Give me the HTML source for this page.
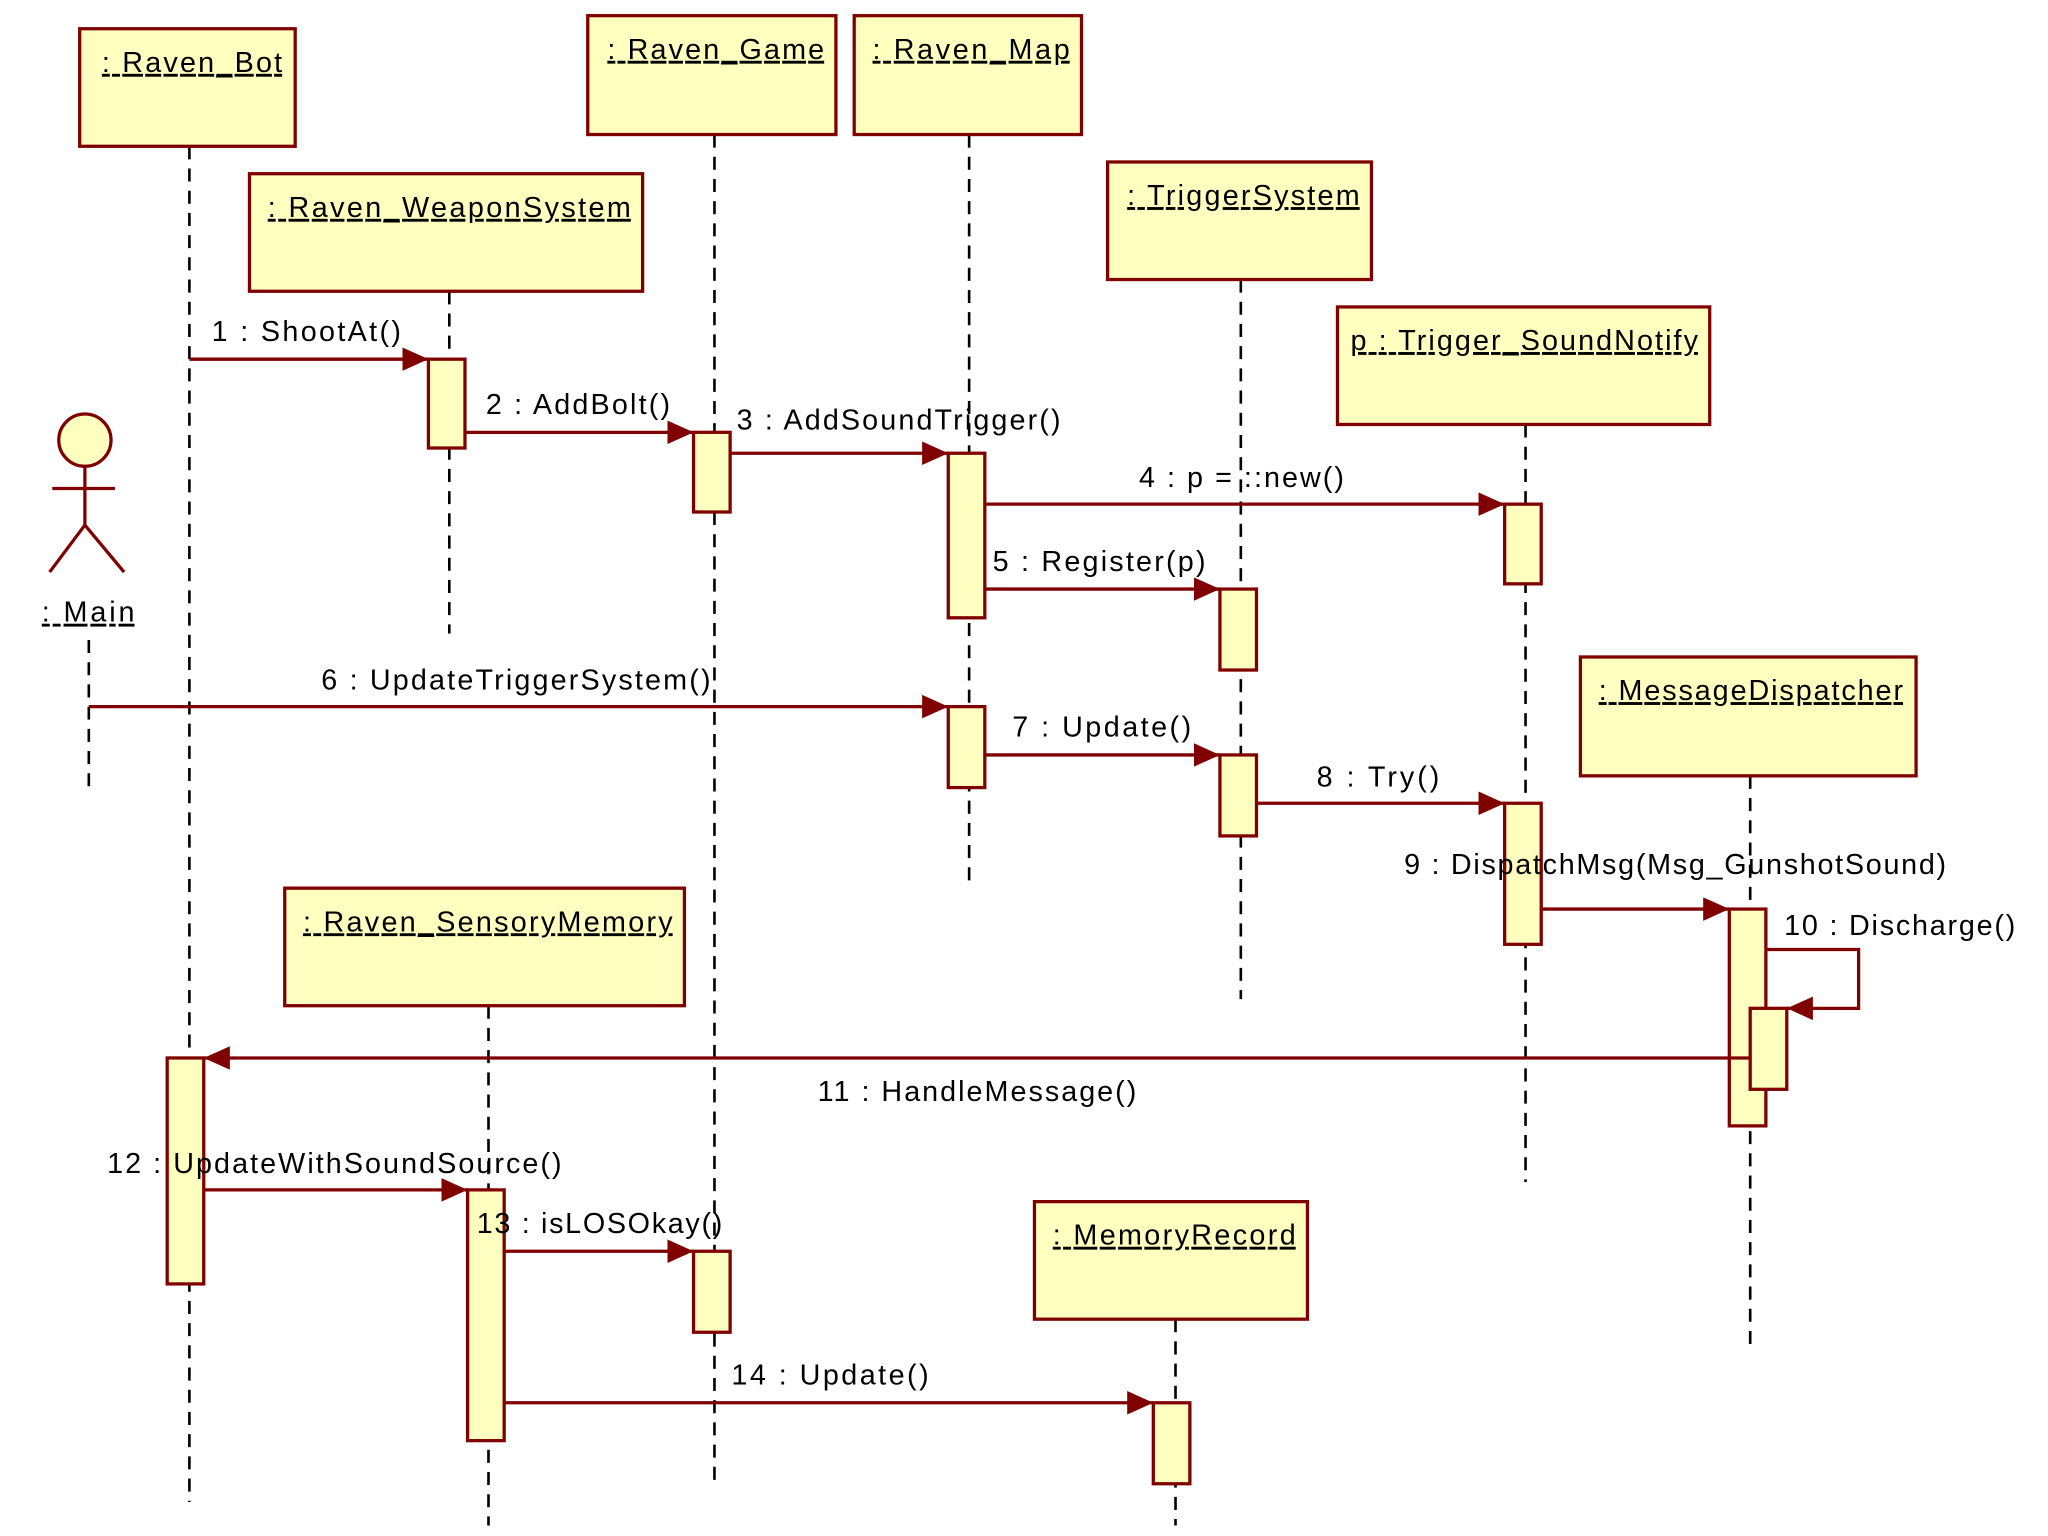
<!DOCTYPE html>
<html><head><meta charset="utf-8"><style>html,body{margin:0;padding:0;background:#fff}svg{display:block}</style></head>
<body>
<svg width="2048" height="1536" viewBox="0 0 1568 1176" xmlns="http://www.w3.org/2000/svg" font-family="Liberation Sans, sans-serif" font-size="22">
<defs>
<marker id="a" viewBox="0 0 20 18" refX="20" refY="9" markerWidth="20" markerHeight="18" markerUnits="userSpaceOnUse" orient="auto"><path d="M0,0 L20,9 L0,18 z" fill="#800000"/></marker>
</defs>
<rect width="1568" height="1176" fill="#fff"/>
<g stroke="#000" stroke-width="2" stroke-dasharray="10,7" fill="none">
<line x1="145" y1="112" x2="145" y2="1150"/>
<line x1="344" y1="223" x2="344" y2="485"/>
<line x1="547" y1="103" x2="547" y2="1140"/>
<line x1="742" y1="103" x2="742" y2="680"/>
<line x1="950" y1="214" x2="950" y2="765"/>
<line x1="1168" y1="325" x2="1168" y2="905"/>
<line x1="1340" y1="594" x2="1340" y2="1030"/>
<line x1="374" y1="770" x2="374" y2="1168"/>
<line x1="900" y1="1010" x2="900" y2="1168"/>
<line x1="68" y1="490" x2="68" y2="605"/>
</g>
<g fill="#ffffc0" stroke="#800000" stroke-width="2.5">
<rect x="61" y="22" width="165" height="90"/>
<rect x="191" y="133" width="301" height="90"/>
<rect x="450" y="12" width="190" height="91"/>
<rect x="654" y="12" width="174" height="91"/>
<rect x="848" y="124" width="202" height="90"/>
<rect x="1024" y="235" width="285" height="90"/>
<rect x="1210" y="503" width="257" height="91"/>
<rect x="218" y="680" width="306" height="90"/>
<rect x="792" y="920" width="209" height="90"/>
<circle cx="65" cy="337" r="20"/>
</g>
<g stroke="#800000" stroke-width="2.5" fill="none">
<line x1="65" y1="357" x2="65" y2="402"/><line x1="40" y1="374" x2="88" y2="374"/>
<line x1="65" y1="402" x2="38" y2="438"/><line x1="65" y1="402" x2="95" y2="438"/>
</g>
<g fill="#000" text-decoration="underline">
<text x="78" y="55" textLength="138">: Raven_Bot</text>
<text x="205" y="166" textLength="278">: Raven_WeaponSystem</text>
<text x="465" y="45" textLength="166">: Raven_Game</text>
<text x="668" y="45" textLength="151">: Raven_Map</text>
<text x="863" y="157" textLength="178">: TriggerSystem</text>
<text x="1034" y="268" textLength="266">p : Trigger_SoundNotify</text>
<text x="1224" y="536" textLength="233">: MessageDispatcher</text>
<text x="232" y="713" textLength="283">: Raven_SensoryMemory</text>
<text x="806" y="953" textLength="186">: MemoryRecord</text>
<text x="32" y="476" textLength="71">: Main</text>
</g>
<g stroke="#800000" stroke-width="2.5" fill="none" marker-end="url(#a)">
<line x1="145" y1="275" x2="328" y2="275"/>
<line x1="356" y1="331" x2="531" y2="331"/>
<line x1="559" y1="347" x2="726" y2="347"/>
<line x1="754" y1="386" x2="1152" y2="386"/>
<line x1="754" y1="451" x2="934" y2="451"/>
<line x1="68" y1="541" x2="726" y2="541"/>
<line x1="754" y1="578" x2="934" y2="578"/>
<line x1="962" y1="615" x2="1152" y2="615"/>
<line x1="1180" y1="696" x2="1324" y2="696"/>
<polyline points="1352,727 1423,727 1423,772 1368,772"/>
<line x1="1340" y1="810" x2="156" y2="810"/>
<line x1="156" y1="911" x2="358" y2="911"/>
<line x1="386" y1="958" x2="531" y2="958"/>
<line x1="386" y1="1074" x2="883" y2="1074"/>
</g>
<g fill="#ffffc0" stroke="#800000" stroke-width="2.5">
<rect x="328" y="275" width="28" height="68"/>
<rect x="531" y="331" width="28" height="61"/>
<rect x="726" y="347" width="28" height="126"/>
<rect x="1152" y="386" width="28" height="61"/>
<rect x="934" y="451" width="28" height="62"/>
<rect x="726" y="541" width="28" height="62"/>
<rect x="934" y="578" width="28" height="62"/>
<rect x="1152" y="615" width="28" height="108"/>
<rect x="1324" y="696" width="28" height="166"/>
<rect x="1340" y="772" width="28" height="62"/>
<rect x="128" y="810" width="28" height="173"/>
<rect x="358" y="911" width="28" height="192"/>
<rect x="531" y="958" width="28" height="62"/>
<rect x="883" y="1074" width="28" height="62"/>
</g>
<line x1="1340" y1="810" x2="1324" y2="810" stroke="#800000" stroke-width="2.5"/>
<g fill="#000">
<text x="162" y="261" textLength="145">1 : ShootAt()</text>
<text x="372" y="317" textLength="141">2 : AddBolt()</text>
<text x="564" y="329" textLength="248">3 : AddSoundTrigger()</text>
<text x="872" y="373" textLength="157">4 : p = ::new()</text>
<text x="760" y="437" textLength="163">5 : Register(p)</text>
<text x="246" y="528" textLength="298">6 : UpdateTriggerSystem()</text>
<text x="775" y="564" textLength="137">7 : Update()</text>
<text x="1008" y="602" textLength="94">8 : Try()</text>
<text x="1075" y="669" textLength="415">9 : DispatchMsg(Msg_GunshotSound)</text>
<text x="1366" y="716" textLength="177">10 : Discharge()</text>
<text x="626" y="843" textLength="244">11 : HandleMessage()</text>
<text x="82" y="898" textLength="348">12 : UpdateWithSoundSource()</text>
<text x="365" y="944" textLength="188">13 : isLOSOkay()</text>
<text x="560" y="1060" textLength="151">14 : Update()</text>
</g>
</svg>
</body></html>
